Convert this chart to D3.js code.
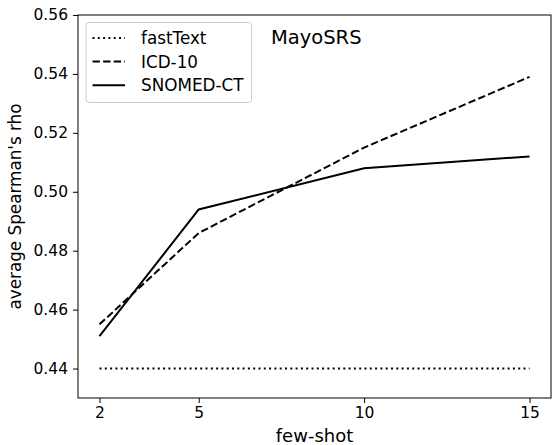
<!DOCTYPE html>
<html>
<head>
<meta charset="utf-8">
<script src="https://cdn.jsdelivr.net/npm/d3@7"></script>
<style>
  body { margin: 0; background: #fff; }
  text { font-family: "DejaVu Sans", sans-serif; fill: #000; }
</style>
</head>
<body>
<div id="chart"></div>
<script>
// Data
const shots = [2, 5, 10, 15];
const fastText = [0.44, 0.44, 0.44, 0.44];
const icd10 = [0.455, 0.486, 0.515, 0.539];
const snomed = [0.451, 0.494, 0.508, 0.512];
const yTicks = [0.44, 0.46, 0.48, 0.50, 0.52, 0.54, 0.56];
const seriesNames = ["fastText", "ICD-10", "SNOMED-CT"];

const width = 552, height = 445;
const margin = { top: 15, right: 1, bottom: 47, left: 78 };

const svg = d3.select("#chart")
    .append("svg")
    .attr("width", width)
    .attr("height", height);

const x = d3.scaleLinear()
    .domain([1.35, 15.65])
    .range([margin.left, width - margin.right]);

const y = d3.scaleLinear()
    .domain([0.43, 0.56])
    .range([height - margin.bottom, margin.top]);

// Axes
svg.append("g")
    .attr("transform", `translate(0,${height - margin.bottom})`)
    .call(d3.axisBottom(x).tickValues(shots).tickSize(5).tickPadding(4))
    .call(g => g.select(".domain").remove())
    .selectAll("text").style("font-size", "15.5px");

svg.append("g")
    .attr("transform", `translate(${margin.left},0)`)
    .call(d3.axisLeft(y).tickValues(yTicks).tickSize(5).tickPadding(5).tickFormat(d3.format(".2f")))
    .call(g => g.select(".domain").remove())
    .selectAll("text").style("font-size", "15.5px");

// Frame
svg.append("rect")
    .attr("x", margin.left)
    .attr("y", margin.top)
    .attr("width", width - margin.left - margin.right)
    .attr("height", height - margin.top - margin.bottom)
    .attr("fill", "none")
    .attr("stroke", "#000")
    .attr("stroke-width", 1);

// Axis labels
svg.append("text")
    .attr("text-anchor", "middle")
    .attr("x", x(8.5))
    .attr("y", 442)
    .style("font-size", "18px")
    .text("few-shot");

svg.append("text")
    .attr("text-anchor", "middle")
    .attr("transform", "rotate(-90)")
    .attr("x", -y(0.495))
    .attr("y", 21)
    .style("font-size", "16.8px")
    .text("average Spearman's rho");

// Title inside plot
svg.append("text")
    .attr("x", 271)
    .attr("y", 44)
    .style("font-size", "19.5px")
    .text("MayoSRS");

// Lines
const dashes = ["2,3.3", "7.4,3.2", null];
const series = [fastText, icd10, snomed];
const line = d3.line()
    .x((d, i) => x(shots[i]))
    .y(d => y(d));

series.forEach((vals, k) => {
    svg.append("path")
        .attr("d", line(vals))
        .attr("fill", "none")
        .attr("stroke", "#000")
        .attr("stroke-width", 2)
        .attr("stroke-dasharray", dashes[k]);
});

// Legend
const legend = svg.append("g");
legend.append("rect")
    .attr("x", 86)
    .attr("y", 22.5)
    .attr("width", 165.5)
    .attr("height", 80)
    .attr("rx", 3)
    .attr("fill", "#fff")
    .attr("fill-opacity", 0.8)
    .attr("stroke", "#ccc");

seriesNames.forEach((name, i) => {
    const cy = 38 + i * 23.6;
    legend.append("line")
        .attr("x1", 92.5).attr("x2", 125)
        .attr("y1", cy).attr("y2", cy)
        .attr("stroke", "#000")
        .attr("stroke-width", 2)
        .attr("stroke-dasharray", dashes[i]);
    legend.append("text")
        .attr("x", 141)
        .attr("y", cy + 6)
        .style("font-size", "16.8px")
        .text(name);
});
</script>
</body>
</html>
